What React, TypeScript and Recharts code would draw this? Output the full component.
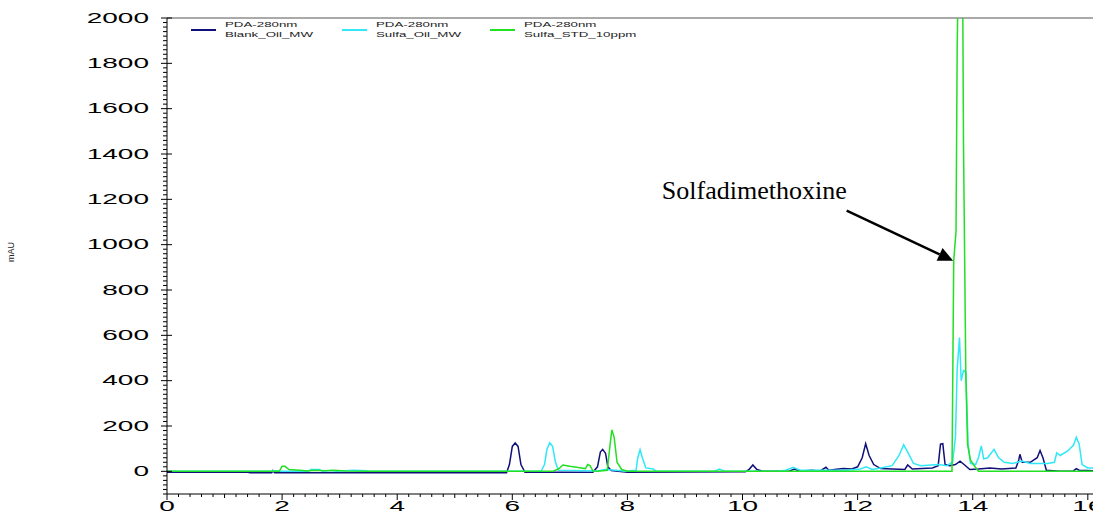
import { LineChart, Line, XAxis, YAxis, ReferenceLine, Legend } from 'recharts';

// [retention time (min), absorbance (mAU)]
const blankOilMW: [number, number][] = [
  [0, -4], [1.4, -4], [1.45, -6], [1.82, -6], [1.84, 3], [1.87, -6], [5.9, -6],
  [5.95, 30], [6.0, 110], [6.05, 125], [6.1, 110], [6.15, 30], [6.22, -4],
  [7.4, -4], [7.48, 20], [7.53, 85], [7.57, 97], [7.62, 80], [7.66, 20], [7.72, 4], [8.0, -4],
  [10.05, -2], [10.12, 10], [10.18, 28], [10.25, 8], [10.35, 0], [10.8, 0], [10.9, 10], [11.0, 0],
  [11.2, 5], [11.35, 2], [11.45, 18], [11.5, 5], [11.6, 8], [11.75, 12], [11.9, 10], [12.0, 20],
  [12.08, 60], [12.14, 122], [12.2, 70], [12.28, 30], [12.4, 12], [12.82, 8], [12.87, 28], [12.95, 10],
  [13.3, 15], [13.4, 25], [13.44, 120], [13.48, 122], [13.52, 30], [13.6, 25], [13.7, 30],
  [13.78, 45], [13.85, 30], [13.95, 8], [14.1, 10], [14.3, 15], [14.5, 10], [14.75, 15],
  [14.8, 50], [14.82, 75], [14.86, 40], [15.0, 40], [15.12, 60], [15.17, 92], [15.22, 60],
  [15.28, 5], [15.5, 0], [15.75, 2], [15.8, 12], [15.85, 5], [16.1, 3],
];

const sulfaOilMW: [number, number][] = [
  [0, 0], [1.8, 0], [1.85, 3], [2.0, 0], [2.45, 0], [2.5, 8], [2.65, 8], [2.7, 0], [2.85, 4],
  [2.95, 0], [3.25, 5], [3.45, 3], [3.5, 0], [6.5, 0], [6.56, 30], [6.6, 95], [6.65, 126],
  [6.7, 110], [6.75, 40], [6.8, 5], [7.5, 2], [7.6, 8], [7.8, 5], [7.95, 0], [8.15, 5],
  [8.18, 60], [8.22, 95], [8.26, 60], [8.32, 15], [8.45, 10], [8.5, 0], [9.5, 0], [9.6, 10],
  [9.7, 0], [10.6, 0], [10.75, 5], [10.88, 18], [11.0, 5], [11.5, 5], [11.8, 5], [12.05, 10],
  [12.15, 20], [12.25, 8], [12.4, 15], [12.6, 25], [12.72, 70], [12.8, 117], [12.88, 80],
  [12.97, 35], [13.1, 25], [13.4, 30], [13.55, 25], [13.65, 40], [13.7, 150], [13.73, 450],
  [13.77, 590], [13.8, 400], [13.84, 445], [13.88, 440], [13.92, 120], [13.96, 35], [14.05, 30],
  [14.1, 60], [14.15, 112], [14.19, 55], [14.26, 60], [14.37, 97], [14.45, 60], [14.55, 40],
  [14.7, 35], [14.85, 45], [15.0, 35], [15.3, 35], [15.42, 40], [15.46, 82], [15.52, 70],
  [15.65, 90], [15.75, 115], [15.8, 150], [15.85, 120], [15.9, 30], [16.0, 15], [16.1, 15],
];

const sulfaStd10ppm: [number, number][] = [
  [0, 0], [1.95, 0], [2.0, 22], [2.05, 22], [2.12, 8], [2.3, 5], [2.45, 2], [2.55, 5],
  [2.75, 3], [2.9, 5], [3.1, 2], [3.5, 0], [6.7, 0], [6.8, 10], [6.88, 28], [7.0, 22],
  [7.2, 15], [7.27, 12], [7.31, 30], [7.35, 25], [7.4, 2], [7.48, 0], [7.65, 5], [7.7, 120],
  [7.73, 183], [7.77, 150], [7.82, 40], [7.9, 8], [8.0, 0], [13.64, 0], [13.67, 930],
  [13.71, 1060], [13.73, 1866], [13.76, 2400], [13.82, 2400], [13.84, 1445], [13.88, 430],
  [13.91, 120], [13.96, 50], [14.04, 20], [14.1, 0], [16.1, 0],
];

const yTickLabels = [0, 200, 400, 600, 800, 1000, 1200, 1400, 1600, 1800, 2000];
const xTickLabels = [0, 2, 4, 6, 8, 10, 12, 14, 16];

// minor tick positions (every 20 mAU / 0.2 min)
const yTicks = Array.from({ length: 106 }, (_, i) => -100 + i * 20);
const xTicks = Array.from({ length: 81 }, (_, i) => Math.round(i * 2) / 10);

const legendX = [191, 342, 490];
const FONT = 'Liberation Sans, Arial, sans-serif';

const toPoints = (pairs: [number, number][]) => pairs.map(([t, v]) => ({ t, v }));

const YTick = ({ x, y, payload }: any) => {
  const v = payload.value;
  const major = yTickLabels.includes(v);
  return (
    <g>
      <line x1={major ? x - 6 : x - 4} x2={major ? x + 5 : x} y1={y} y2={y} stroke="#000" />
      {major && (
        <text transform={`translate(${x - 18},${y + 4.5}) scale(2,1)`} textAnchor="end" fontSize={14} fontFamily={FONT} fill="#000">
          {v}
        </text>
      )}
    </g>
  );
};

const XTick = ({ x, y, payload }: any) => {
  const v = payload.value;
  const major = xTickLabels.some((m) => Math.abs(m - v) < 1e-6);
  const unit = Math.abs(v - Math.round(v)) < 1e-6;
  const len = major ? 6 : unit ? 4 : 3;
  return (
    <g>
      <line x1={x} x2={x} y1={y} y2={y + len} stroke="#000" />
      {major && (
        <text transform={`translate(${x},${y + 17}) scale(2,1)`} textAnchor="middle" fontSize={14} fontFamily={FONT} fill="#000">
          {Math.round(v)}
        </text>
      )}
    </g>
  );
};

const ArrowNote = (p: any) => {
  const { x1, y1, x2, y2 } = p;
  const a = Math.atan2(y2 - y1, x2 - x1);
  const c = Math.cos(a), s = Math.sin(a);
  const L = 15, W = 7;
  const bx = x2 - L * c, by = y2 - L * s;
  return (
    <g>
      <text x={x1} y={y1 - 12} textAnchor="end" fontSize={26} fontFamily="Liberation Serif, 'Times New Roman', serif" fill="#000">
        Solfadimethoxine
      </text>
      <line x1={x1} y1={y1} x2={bx} y2={by} stroke="#000" strokeWidth={2.5} />
      <polygon points={`${x2},${y2} ${bx - s * W},${by + c * W} ${bx + s * W},${by - c * W}`} fill="#000" />
    </g>
  );
};

const LegendContent = ({ payload }: any) => (
  <div style={{ position: 'relative', height: 0 }}>
    {(payload || []).map((e: any, i: number) => (
      <div key={i} style={{ position: 'absolute', left: legendX[i], top: 0 }}>
        <div style={{ position: 'absolute', left: 0, top: 29, width: 25, height: 1.5, background: e.color }} />
        <div
          style={{
            position: 'absolute', left: 34, top: 20, transform: 'scaleX(1.9)', transformOrigin: 'left top',
            fontFamily: FONT, fontSize: 7, lineHeight: '10px', color: '#222', whiteSpace: 'nowrap',
          }}
        >
          PDA-280nm<br />{e.value}
        </div>
      </div>
    ))}
  </div>
);

const App = () => {
  return (
    <div style={{ position: 'absolute', left: 0, top: 0, background: '#fff' }}>
      <LineChart width={1093} height={511} margin={{ top: 18, right: 0, bottom: 0, left: 0 }}>
        <XAxis
          dataKey="t" type="number" domain={[0, 16.09]} allowDataOverflow ticks={xTicks} interval={0}
          height={17} tickSize={0} tickMargin={0} tick={<XTick />} axisLine={{ stroke: '#000' }}
        />
        <YAxis
          type="number" domain={[-100, 2000]} allowDataOverflow ticks={yTicks} interval={0}
          width={167} tickSize={0} tickMargin={0} tick={<YTick />} axisLine={{ stroke: '#000' }}
          label={() => (
            <text transform="translate(14,252) rotate(-90)" textAnchor="middle" fontSize={9} fontFamily={FONT} fill="#222">
              mAU
            </text>
          )}
        />
        <ReferenceLine y={2000} stroke="#555" />
        <Line data={toPoints(blankOilMW)} dataKey="v" name="Blank_Oil_MW" stroke="#10107a" strokeWidth={1.5} dot={false} isAnimationActive={false} />
        <Line data={toPoints(sulfaOilMW)} dataKey="v" name="Sulfa_Oil_MW" stroke="#30e8f8" strokeWidth={1.5} dot={false} isAnimationActive={false} />
        <Line data={toPoints(sulfaStd10ppm)} dataKey="v" name="Sulfa_STD_10ppm" stroke="#22e022" strokeWidth={1.5} dot={false} isAnimationActive={false} />
        <ReferenceLine segment={[{ x: 11.81, y: 1150 }, { x: 13.66, y: 929 }]} shape={ArrowNote} />
        <Legend verticalAlign="middle" layout="horizontal" wrapperStyle={{ top: 0, left: 0, width: 1093, height: 0 }} content={LegendContent} />
      </LineChart>
    </div>
  );
};

export default App;
